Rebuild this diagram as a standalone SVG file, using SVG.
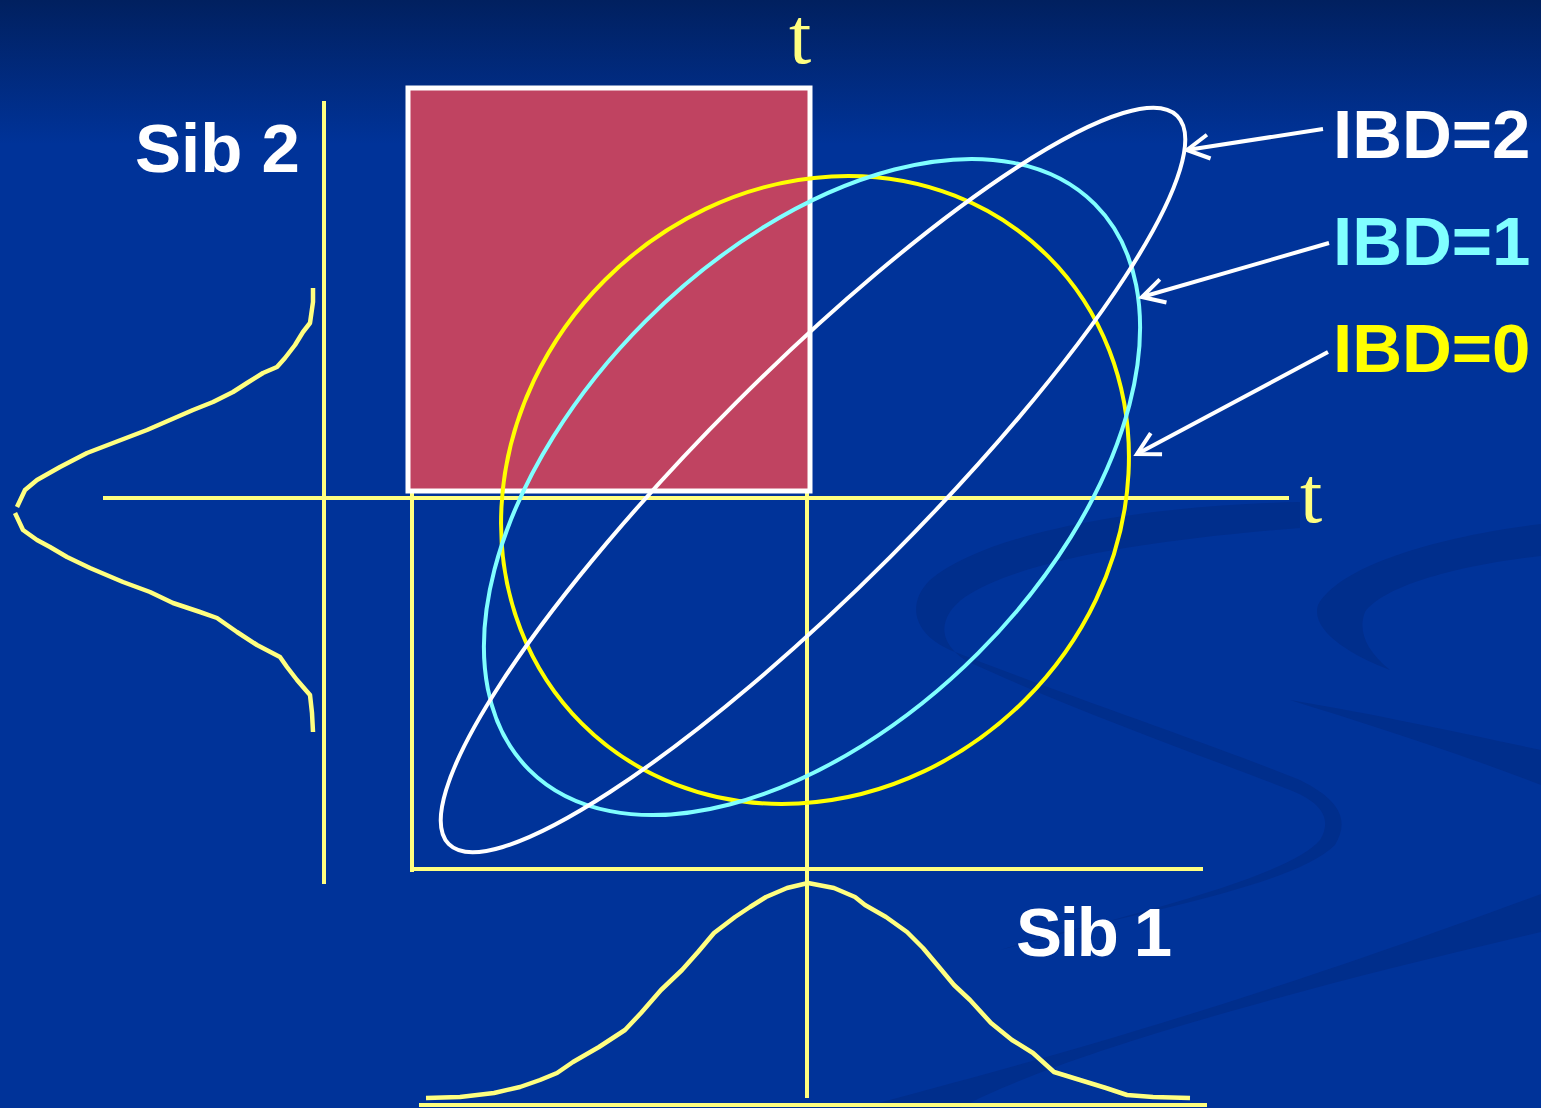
<svg xmlns="http://www.w3.org/2000/svg" width="1541" height="1108" viewBox="0 0 1541 1108">
<defs>
<linearGradient id="bg" x1="0" y1="0" x2="0" y2="1108" gradientUnits="userSpaceOnUse">
<stop offset="0" stop-color="#01205f"/>
<stop offset="0.13" stop-color="#003399"/>
<stop offset="1" stop-color="#003399"/>
</linearGradient>
<marker id="arr" viewBox="-26 -15 30 30" markerWidth="30" markerHeight="30" refX="0" refY="0" markerUnits="userSpaceOnUse" orient="auto">
<path d="M-22,-12 L0,0 L-22,12" fill="none" stroke="#ffffff" stroke-width="4"/>
</marker>
<style>
.ax{stroke:#ffff80;stroke-width:4;fill:none}
.bell{stroke:#ffff80;stroke-width:4.5;fill:none;stroke-linejoin:round;stroke-linecap:butt}
.ell{fill:none;stroke-width:4}
.lbl{font-family:"Liberation Sans",Arial,sans-serif;font-weight:bold;font-size:69px}
.tl{font-family:"Liberation Serif","Times New Roman",serif;font-size:80px;fill:#ffff80}
.sw{fill:#002e8c}
.arrow{stroke:#ffffff;stroke-width:4;fill:none;marker-end:url(#arr)}
</style>
</defs>
<rect x="0" y="0" width="1541" height="1108" fill="url(#bg)"/>
<g id="background-swooshes">
<path class="sw" d="M1541,524 C1440,536 1340,565 1318,605 C1310,630 1350,655 1390,670 C1365,650 1358,630 1365,612 C1385,585 1460,565 1541,556 Z"/>
<path class="sw" d="M1300,502 C1150,505 990,530 930,580 C905,605 915,635 950,650 C1050,690 1200,740 1300,780 C1340,800 1350,820 1335,845 C1300,880 1180,905 1050,935 L1000,950 C1150,910 1290,875 1320,840 C1335,815 1315,800 1290,790 C1200,755 1060,705 965,660 C935,640 940,615 965,597 C1020,560 1150,540 1300,528 Z"/>
<path class="sw" d="M860,1108 C1000,1070 1200,1020 1541,894 L1541,932 C1250,1000 1050,1060 960,1108 Z"/>
<path class="sw" d="M1290,700 C1380,715 1470,735 1541,750 L1541,785 C1450,750 1370,725 1290,700 Z"/>
</g>
<g id="axes">
<line class="ax" x1="103" y1="498" x2="1289" y2="498"/>
<line class="ax" x1="324" y1="101" x2="324" y2="884"/>
<line class="ax" x1="412" y1="492" x2="412" y2="872"/>
<line class="ax" x1="412" y1="869" x2="1203" y2="869"/>
<line class="ax" x1="807" y1="492" x2="807" y2="1098"/>
<line class="ax" x1="419" y1="1105" x2="1207" y2="1105"/>
</g>
<g id="sib2-distribution">
<polyline class="bell" points="313,288 313,302 310,323 303,332 295,345 285,358 277,367 263,373 247,383 233,392 213,402 193,410 170,420 147,430 113,443 87,453 60,467 37,480 25,490 17,507"/>
<polyline class="bell" points="15,513 23,530 37,540 50,547 67,557 90,568 123,582 150,592 173,603 200,612 217,618 237,632 257,645 280,657 287,667 297,680 310,695 312,713 313,732"/>
</g>
<g id="sib1-distribution">
<polyline class="bell" points="426,1098 460,1097 494,1093 520,1087 540,1080 557,1073 573,1062 599,1047 625,1030 641,1013 661,990 682,970 698,952 714,933 735,917 750,907 766,897 787,888 808,883 834,888 855,897 865,905 886,917 907,932 923,948 939,967 954,985 970,1000 991,1023 1012,1040 1033,1053 1054,1072 1080,1080 1106,1088 1127,1095 1153,1097 1190,1098"/>
</g>
<g id="concordant-region">
<rect x="408" y="88" width="402" height="403" fill="#c04361" stroke="#ffffff" stroke-width="5"/>
</g>
<g id="ibd0-ellipse">
<ellipse class="ell" cx="815" cy="490" rx="330" ry="297" transform="rotate(-45 815 490)" stroke="#ffff00" stroke-width="4.5"/>
</g>
<g id="ibd1-ellipse">
<ellipse class="ell" cx="812" cy="487" rx="400" ry="235" transform="rotate(-45 812 487)" stroke="#80ffff"/>
</g>
<g id="ibd2-ellipse">
<ellipse class="ell" cx="813" cy="480" rx="515" ry="109" transform="rotate(-45 813 480)" stroke="#ffffff"/>
</g>
<g id="connectors">
<line class="arrow" x1="1323" y1="129" x2="1187" y2="150"/>
<line class="arrow" x1="1329" y1="243" x2="1142" y2="297"/>
<line class="arrow" x1="1328" y1="352" x2="1137" y2="454"/>
</g>
<g id="labels">
<text class="tl" x="789" y="63">t</text>
<text class="tl" x="1300" y="522">t</text>
<text class="lbl" x="135" y="172" fill="#ffffff">Sib 2</text>
<text class="lbl" x="1016" y="956" fill="#ffffff" textLength="156" lengthAdjust="spacing">Sib 1</text>
<text class="lbl" x="1333" y="158" fill="#ffffff">IBD=2</text>
<text class="lbl" x="1333" y="265" fill="#80ffff">IBD=1</text>
<text class="lbl" x="1333" y="372" fill="#ffff00">IBD=0</text>
</g>
</svg>
